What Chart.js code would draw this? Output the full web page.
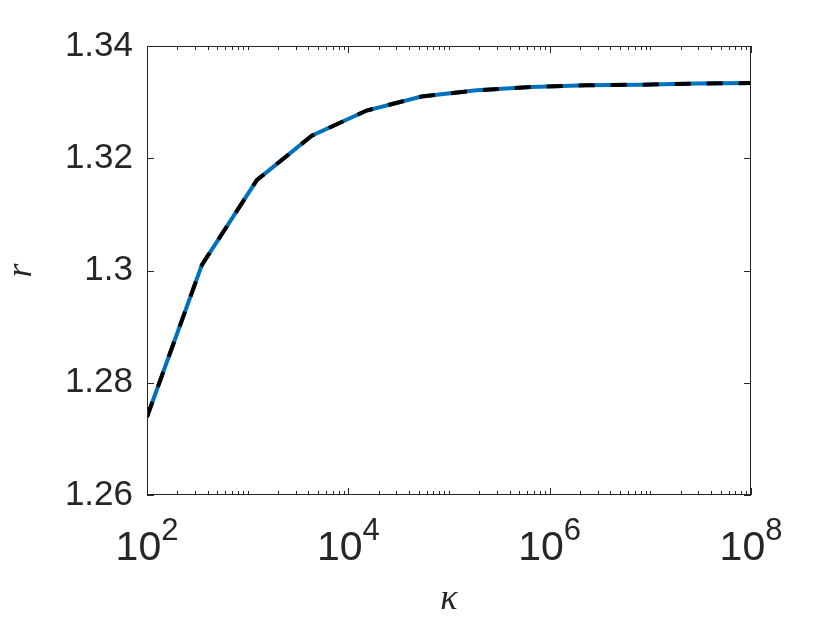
<!DOCTYPE html>
<html>
<head>
<meta charset="utf-8">
<title>r vs kappa</title>
<script src="https://cdn.jsdelivr.net/npm/chart.js@4/dist/chart.umd.min.js"></script>
<style>
    html, body { margin: 0; padding: 0; background: #ffffff; }
    #wrap { width: 830px; height: 623px; position: relative; }
</style>
</head>
<body>
<div id="wrap"><canvas id="chart"></canvas></div>
<script>
const kappa = [100, 351, 1233, 4329, 15199, 53367, 187382, 657933, 2310130, 8111308, 28480359, 100000000];
const rValues = [1.2739, 1.3010, 1.3161, 1.3240, 1.3285, 1.3310, 1.3321, 1.3327, 1.3330, 1.3331, 1.3333, 1.3334];
const yTicks = [1.26, 1.28, 1.30, 1.32, 1.34];
const xLabelExponents = [2, 4, 6, 8];

const axisColor = '#262626';
const points = kappa.map((k, i) => ({ x: k, y: rValues[i] }));

// every 1..9 x 10^n between 10^2 and 10^8, majors only where labelled
function logTicks() {
    const ticks = [];
    for (let e = 2; e < 8; e++) {
        for (let m = 1; m < 10; m++) {
            ticks.push({ value: m * Math.pow(10, e), major: m === 1 && xLabelExponents.includes(e) });
        }
    }
    ticks.push({ value: 1e8, major: true });
    return ticks;
}

const framePlugin = {
    id: 'frame',
    afterDraw(chart) {
        const { ctx, chartArea: a, scales: { x, y } } = chart;
        ctx.save();
        ctx.strokeStyle = axisColor;
        ctx.lineWidth = 1;
        ctx.strokeRect(Math.round(a.left) + 0.5, Math.round(a.top) + 0.5,
            Math.round(a.right - a.left) - 1, Math.round(a.bottom - a.top) - 1);

        ctx.beginPath();
        x.ticks.forEach((t) => {
            const px = Math.round(x.getPixelForValue(t.value)) + 0.5;
            const len = t.major ? 7 : 4;
            ctx.moveTo(px, a.bottom);
            ctx.lineTo(px, a.bottom - len);
            ctx.moveTo(px, a.top);
            ctx.lineTo(px, a.top + len);
        });
        yTicks.forEach((v) => {
            const py = Math.round(y.getPixelForValue(v)) + 0.5;
            ctx.moveTo(a.left, py);
            ctx.lineTo(a.left + 7, py);
            ctx.moveTo(a.right, py);
            ctx.lineTo(a.right - 7, py);
        });
        ctx.stroke();

        // 10^n labels with raised exponent
        ctx.fillStyle = axisColor;
        ctx.textBaseline = 'alphabetic';
        ctx.textAlign = 'left';
        xLabelExponents.forEach((e) => {
            const px = x.getPixelForValue(Math.pow(10, e));
            ctx.font = '41px "Liberation Sans", Arial, sans-serif';
            const w1 = ctx.measureText('10').width;
            ctx.font = '31px "Liberation Sans", Arial, sans-serif';
            const w2 = ctx.measureText(String(e)).width;
            const start = px - (w1 + w2) / 2;
            ctx.font = '41px "Liberation Sans", Arial, sans-serif';
            ctx.fillText('10', start, 560);
            ctx.font = '31px "Liberation Sans", Arial, sans-serif';
            ctx.fillText(String(e), start + w1, 540);
        });
        ctx.restore();
    },
};

new Chart(document.getElementById('chart'), {
    type: 'line',
    data: {
        datasets: [
            {
                data: points,
                borderColor: '#000000',
                borderWidth: 4,
                borderDash: [16, 16],
                borderCapStyle: 'butt',
                pointRadius: 0,
                tension: 0,
            },
            {
                data: points,
                borderColor: '#0072BD',
                borderWidth: 4,
                pointRadius: 0,
                tension: 0,
            },
        ],
    },
    options: {
        responsive: true,
        maintainAspectRatio: false,
        animation: false,
        layout: {
            padding: { top: 46, right: 79, left: 0, bottom: 0 },
        },
        plugins: {
            legend: { display: false },
            tooltip: { enabled: false },
        },
        scales: {
            x: {
                type: 'logarithmic',
                min: 100,
                max: 1e8,
                afterBuildTicks(scale) {
                    scale.ticks = logTicks();
                },
                afterFit(scale) {
                    scale.height = 128;
                },
                grid: { display: false },
                border: { display: false },
                ticks: { display: false },
                title: {
                    display: true,
                    text: 'κ',
                    color: axisColor,
                    font: { family: '"Liberation Serif", "DejaVu Serif", serif', style: 'italic', size: 36 },
                    padding: { top: 0, bottom: 2 },
                },
            },
            y: {
                type: 'linear',
                min: 1.26,
                max: 1.34,
                afterBuildTicks(scale) {
                    scale.ticks = yTicks.map((v) => ({ value: v }));
                },
                afterFit(scale) {
                    scale.width = 147;
                },
                grid: { display: false, drawTicks: false },
                border: { display: false },
                ticks: {
                    color: axisColor,
                    padding: 14,
                    font: { family: '"Liberation Sans", Arial, sans-serif', size: 35 },
                    callback: (v) => String(Number(v.toFixed(2))),
                },
                title: {
                    display: true,
                    text: 'r',
                    color: axisColor,
                    font: { family: '"Liberation Serif", "DejaVu Serif", serif', style: 'italic', size: 36 },
                    padding: { top: 0, bottom: 6 },
                },
            },
        },
    },
    plugins: [framePlugin],
});
</script>
</body>
</html>
